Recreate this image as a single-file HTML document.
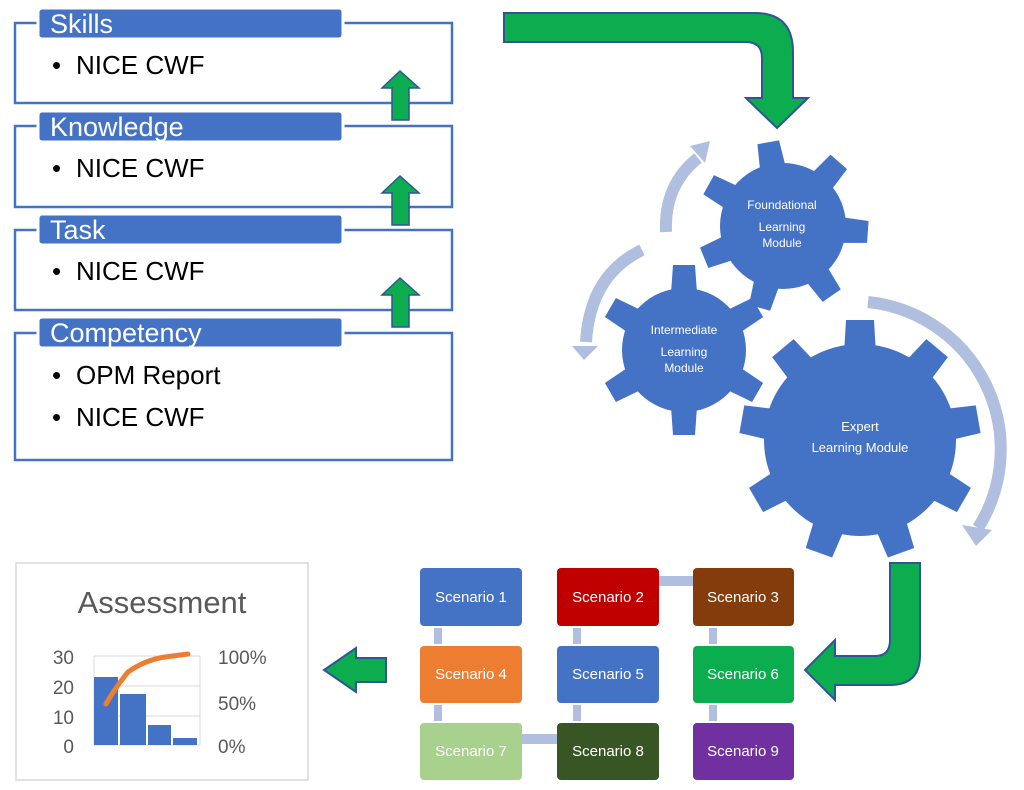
<!DOCTYPE html>
<html><head><meta charset="utf-8"><style>
html,body{margin:0;padding:0;background:#fff;width:1024px;height:790px;overflow:hidden}
svg{display:block}
text{font-family:"Liberation Sans",sans-serif}
</style></head><body>
<svg width="1024" height="790" viewBox="0 0 1024 790" xmlns="http://www.w3.org/2000/svg">
<defs>
<polygon id="t1" points="-17,0 17,0 11,-85 -11,-85"/>
<polygon id="t2" points="-17,0 17,0 11,-85 -11,-85"/>
<polygon id="t3" points="-21,0 21,0 14,-120 -14,-120"/>
</defs>
<!-- left boxes -->
<g fill="none" stroke="#4472c4" stroke-width="2.5">
<rect x="15" y="23" width="437" height="80"/>
<rect x="15" y="126" width="437" height="81"/>
<rect x="15" y="230" width="437" height="80"/>
<rect x="15" y="333" width="437" height="127"/>
</g>
<g fill="#4472c4" stroke="#fff" stroke-width="3">
<rect x="38" y="8" width="305" height="31" rx="4"/>
<rect x="38" y="111" width="305" height="31" rx="4"/>
<rect x="38" y="214" width="305" height="31" rx="4"/>
<rect x="38" y="317" width="305" height="31" rx="4"/>
</g>
<g fill="#fff" font-size="27">
<text x="50" y="33">Skills</text>
<text x="50" y="136">Knowledge</text>
<text x="50" y="239">Task</text>
<text x="50" y="342">Competency</text>
</g>
<g fill="#000" font-size="26">
<text x="52" y="74">•</text><text x="76" y="74">NICE CWF</text>
<text x="52" y="177">•</text><text x="76" y="177">NICE CWF</text>
<text x="52" y="280">•</text><text x="76" y="280">NICE CWF</text>
<text x="52" y="384">•</text><text x="76" y="384">OPM Report</text>
<text x="52" y="426">•</text><text x="76" y="426">NICE CWF</text>
</g>
<!-- up arrows -->
<g fill="#0bad4f" stroke="#2f5597" stroke-width="1.5">
<polygon points="392,120 409,120 409,88 419,88 400,71 382,88 392,88"/>
<polygon points="392,225 409,225 409,193 419,193 400,176 382,193 392,193"/>
<polygon points="392,327 409,327 409,295 419,295 400,278 382,295 392,295"/>
</g>
<!-- top bent arrow -->
<path d="M504,13 L755,13 Q793,13 793,52 L793,98 L808,98 L777,128 L746,98 L762,98 L762,58 Q762,42 746,42 L504,42 Z" fill="#0bad4f" stroke="#2f5597" stroke-width="2"/>
<!-- bottom bent arrow -->
<path d="M890,563 L920,563 L920,655 Q920,685 890,685 L835,685 L835,700 L805,670 L835,640 L835,656 L875,656 Q890,656 890,640 Z" fill="#0bad4f" stroke="#2f5597" stroke-width="2"/>
<!-- left arrow -->
<path d="M386,658 L356,658 L356,648 L324,670 L356,692 L356,682 L386,682 Z" fill="#0bad4f" stroke="#2f5597" stroke-width="2"/>
<!-- light arcs -->
<g fill="none" stroke="#b0bfe0" stroke-width="12">
<path d="M666,232 Q664,185 698,158"/>
<path d="M642,250 Q590,275 586,342"/>
<path d="M868,302 A148,148 0 0 1 978,528"/>
</g>
<g fill="#b0bfe0">
<polygon points="690,146 710,141 705,163"/>
<polygon points="572,346 598,346 584,360"/>
<polygon points="962,525 992,530 976,546"/>
</g>
<!-- gears -->
<g fill="#4472c4">
<circle cx="783" cy="226" r="63"/>
<g transform="translate(783,226)">
<use href="#t1" transform="rotate(-10)"/><use href="#t1" transform="rotate(41)"/><use href="#t1" transform="rotate(94)"/><use href="#t1" transform="rotate(145)"/><use href="#t1" transform="rotate(196)"/><use href="#t1" transform="rotate(248)"/><use href="#t1" transform="rotate(299)"/>
</g>
<circle cx="684" cy="350" r="62"/>
<g transform="translate(684,350)">
<use href="#t2"/><use href="#t2" transform="rotate(60)"/><use href="#t2" transform="rotate(120)"/><use href="#t2" transform="rotate(180)"/><use href="#t2" transform="rotate(240)"/><use href="#t2" transform="rotate(300)"/>
</g>
<circle cx="860" cy="440" r="96"/>
<g transform="translate(860,440)">
<use href="#t3"/><use href="#t3" transform="rotate(40)"/><use href="#t3" transform="rotate(80)"/><use href="#t3" transform="rotate(120)"/><use href="#t3" transform="rotate(160)"/><use href="#t3" transform="rotate(200)"/><use href="#t3" transform="rotate(240)"/><use href="#t3" transform="rotate(280)"/><use href="#t3" transform="rotate(320)"/>
</g>
</g>
<g fill="#fff" font-size="12" text-anchor="middle">
<text x="782" y="209">Foundational</text>
<text x="782" y="231">Learning</text>
<text x="782" y="247">Module</text>
<text x="684" y="334">Intermediate</text>
<text x="684" y="356">Learning</text>
<text x="684" y="372">Module</text>
<text x="860" y="431" font-size="13">Expert</text>
<text x="860" y="452" font-size="13">Learning Module</text>
</g>
<!-- scenario connectors -->
<g fill="#b0bfe0">
<rect x="659" y="576" width="34" height="10"/>
<rect x="522" y="734" width="35" height="10"/>
<rect x="434" y="628" width="8" height="16"/>
<rect x="573" y="628" width="8" height="16"/>
<rect x="709" y="628" width="8" height="16"/>
<rect x="434" y="705" width="8" height="16"/>
<rect x="573" y="705" width="8" height="16"/>
<rect x="709" y="705" width="8" height="16"/>
</g>
<g>
<rect x="420" y="568" width="102" height="58" rx="4" fill="#4472c4"/>
<rect x="557" y="568" width="102" height="58" rx="4" fill="#c00000"/>
<rect x="693" y="568" width="101" height="58" rx="4" fill="#843c0c"/>
<rect x="420" y="646" width="102" height="57" rx="4" fill="#ed7d31"/>
<rect x="557" y="646" width="102" height="57" rx="4" fill="#4472c4"/>
<rect x="693" y="646" width="101" height="57" rx="4" fill="#0bad4f"/>
<rect x="420" y="723" width="102" height="57" rx="4" fill="#a9d18e"/>
<rect x="557" y="723" width="102" height="57" rx="4" fill="#375623"/>
<rect x="693" y="723" width="101" height="57" rx="4" fill="#7030a0"/>
</g>
<g fill="#fff" font-size="15" text-anchor="middle">
<text x="471" y="602">Scenario 1</text>
<text x="608" y="602">Scenario 2</text>
<text x="743" y="602">Scenario 3</text>
<text x="471" y="679">Scenario 4</text>
<text x="608" y="679">Scenario 5</text>
<text x="743" y="679">Scenario 6</text>
<text x="471" y="756">Scenario 7</text>
<text x="608" y="756">Scenario 8</text>
<text x="743" y="756">Scenario 9</text>
</g>
<!-- assessment -->
<rect x="16" y="563" width="292" height="217" fill="#fff" stroke="#d9d9d9" stroke-width="1.5"/>
<text x="162" y="613" font-size="31" fill="#595959" text-anchor="middle">Assessment</text>
<g stroke="#d9d9d9" stroke-width="1"><line x1="94" y1="656" x2="200" y2="656"/><line x1="94" y1="686" x2="200" y2="686"/><line x1="94" y1="716" x2="200" y2="716"/><line x1="94" y1="745" x2="200" y2="745"/><line x1="94" y1="656" x2="94" y2="745"/><line x1="200" y1="656" x2="200" y2="745"/></g>
<g fill="#4472c4"><rect x="94" y="677" width="24" height="68"/><rect x="120" y="694" width="26" height="51"/><rect x="148" y="725" width="23" height="20"/><rect x="173" y="738" width="24" height="7"/></g>
<path d="M106,704 Q115,688 128,672 Q145,660 165,657 L188,654" fill="none" stroke="#ed7d31" stroke-width="5" stroke-linecap="round"/>
<g fill="#595959" font-size="19">
<text x="74" y="664" text-anchor="end">30</text>
<text x="74" y="694" text-anchor="end">20</text>
<text x="74" y="724" text-anchor="end">10</text>
<text x="74" y="753" text-anchor="end">0</text>
<text x="218" y="664">100%</text>
<text x="218" y="710">50%</text>
<text x="218" y="753">0%</text>
</g>
</svg>
</body></html>
